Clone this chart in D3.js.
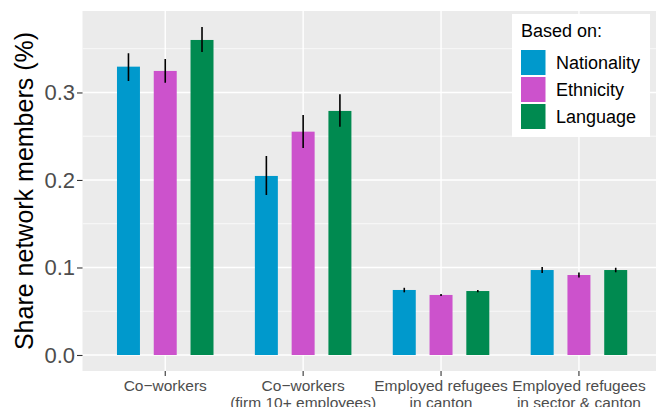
<!DOCTYPE html>
<html>
<head>
<meta charset="utf-8">
<script src="https://cdn.jsdelivr.net/npm/d3@7"></script>
<style>
  body { margin: 0; background: #fff; }
  text { font-family: "Liberation Sans", Arial, sans-serif; }
</style>
</head>
<body>
<div class="forSvg"></div>
<script>
// svg size
const svg_w = 656;
const svg_h = 407;

// data
const categories = ["Co-workers", "Co-workers (firm 10+ employees)", "Employed refugees in canton", "Employed refugees in sector & canton"];
const catLabels = [["Co\u2212workers"], ["Co\u2212workers", "(firm 10+ employees)"], ["Employed refugees", "in canton"], ["Employed refugees", "in sector & canton"]];
const series = ["Nationality", "Ethnicity", "Language"];
const nationality = [0.3295, 0.2046, 0.0743, 0.0971];
const ethnicity = [0.3246, 0.2552, 0.0686, 0.0914];
const language = [0.3600, 0.2789, 0.0731, 0.0971];
const nationalityLo = [0.3131, 0.1829, 0.0716, 0.0937];
const nationalityHi = [0.3448, 0.2274, 0.0768, 0.1006];
const ethnicityLo = [0.3112, 0.2366, 0.0675, 0.0885];
const ethnicityHi = [0.3383, 0.2743, 0.0698, 0.0943];
const languageLo = [0.3463, 0.2609, 0.0718, 0.0945];
const languageHi = [0.3749, 0.2980, 0.0744, 0.0997];
const yTicks = [0, 0.1, 0.2, 0.3];
const yMinor = [0.05, 0.15, 0.25, 0.35];
const colors = ["#0099CC", "#CC52CC", "#008A50"];

// panel area
const panelL = 82.5, panelT = 11, panelB = 371;

const rows = [];
categories.forEach((c, i) => {
  rows.push({cat: c, s: series[0], v: nationality[i], lo: nationalityLo[i], hi: nationalityHi[i]});
  rows.push({cat: c, s: series[1], v: ethnicity[i], lo: ethnicityLo[i], hi: ethnicityHi[i]});
  rows.push({cat: c, s: series[2], v: language[i], lo: languageLo[i], hi: languageHi[i]});
});

// x: discrete scale, 0.6 expansion on each side
const step = 137.9;
const x0 = d3.scaleBand()
  .domain(categories)
  .range([panelL, panelL + step * 4.2])
  .paddingInner(0)
  .paddingOuter(0.1);
const x1 = d3.scaleBand()
  .domain(series)
  .range([-0.4 * step, 0.4 * step]);
const barW = x1.bandwidth() * 0.625;
const cx = d => x0(d.cat) + x0.bandwidth() / 2 + x1(d.s) + x1.bandwidth() / 2;

const yScale = d3.scaleLinear()
  .domain([-0.01829, 0.3931])
  .range([panelB, panelT]);

const svg = d3.select(".forSvg").append("svg")
  .attr("width", svg_w)
  .attr("height", svg_h);

svg.append("defs").append("clipPath").attr("id", "clip")
  .append("rect").attr("x", panelL).attr("y", panelT)
  .attr("width", svg_w - panelL).attr("height", panelB - panelT);

// panel background
svg.append("rect")
  .attr("x", panelL).attr("y", panelT)
  .attr("width", svg_w - panelL).attr("height", panelB - panelT)
  .attr("fill", "#EBEBEB");

const grid = svg.append("g").attr("clip-path", "url(#clip)");
grid.selectAll(".minor").data(yMinor).enter().append("line")
  .attr("x1", panelL).attr("x2", svg_w)
  .attr("y1", d => yScale(d)).attr("y2", d => yScale(d))
  .attr("stroke", "#fff").attr("stroke-width", 0.7);
grid.selectAll(".major").data(yTicks).enter().append("line")
  .attr("x1", panelL).attr("x2", svg_w)
  .attr("y1", d => yScale(d)).attr("y2", d => yScale(d))
  .attr("stroke", "#fff").attr("stroke-width", 1.4);
grid.selectAll(".vmajor").data(categories).enter().append("line")
  .attr("x1", d => x0(d) + x0.bandwidth() / 2).attr("x2", d => x0(d) + x0.bandwidth() / 2)
  .attr("y1", panelT).attr("y2", panelB)
  .attr("stroke", "#fff").attr("stroke-width", 1.4);

// bars
const marks = svg.append("g").attr("clip-path", "url(#clip)");
marks.selectAll("rect").data(rows).enter().append("rect")
  .attr("x", d => cx(d) - barW / 2)
  .attr("width", barW)
  .attr("y", d => yScale(d.v))
  .attr("height", d => yScale(0) - yScale(d.v))
  .attr("fill", d => colors[series.indexOf(d.s)]);

// error bars
marks.selectAll("line").data(rows).enter().append("line")
  .attr("x1", cx).attr("x2", cx)
  .attr("y1", d => yScale(d.lo)).attr("y2", d => yScale(d.hi))
  .attr("stroke", "#000").attr("stroke-width", 1.6);

// y axis
const yAxis = d3.axisLeft(yScale).tickValues(yTicks).tickFormat(d3.format(".1f")).tickSize(5.5).tickPadding(2);
const yg = svg.append("g").attr("transform", `translate(${panelL},0)`).call(yAxis);
yg.select(".domain").remove();
yg.selectAll("line").attr("stroke", "#333").attr("stroke-width", 1.1);
yg.selectAll("text").attr("fill", "#4D4D4D").style("font-size", "22px")
  .style("font-family", "'Liberation Sans', Arial, sans-serif");

// x axis
const xAxis = d3.axisBottom(x0).tickSize(5).tickFormat("");
const xg = svg.append("g").attr("transform", `translate(0,${panelB})`).call(xAxis);
xg.select(".domain").remove();
xg.selectAll("line").attr("stroke", "#333").attr("stroke-width", 1.1);
xg.selectAll(".tick").each(function(d, i) {
  const t = d3.select(this).append("text")
    .attr("fill", "#4D4D4D")
    .attr("text-anchor", "middle")
    .style("font-size", "15.5px");
  catLabels[i].forEach((line, j) => {
    t.append("tspan").attr("x", 0).attr("y", 20 + j * 17).text(line);
  });
});

// y axis title
svg.append("text")
  .attr("transform", `translate(33,${(panelT + panelB) / 2}) rotate(-90)`)
  .attr("text-anchor", "middle")
  .attr("fill", "#000")
  .style("font-size", "25px")
  .text("Share network members (%)");

// legend
const lg = svg.append("g");
lg.append("rect").attr("x", 512).attr("y", 14).attr("width", 138).attr("height", 123).attr("fill", "#fff");
lg.append("text").attr("x", 521).attr("y", 37).style("font-size", "18px").text("Based on:");
series.forEach((s, i) => {
  lg.append("rect").attr("x", 521).attr("y", 50 + i * 27).attr("width", 24.5).attr("height", 25)
    .attr("fill", colors[i]);
  lg.append("text").attr("x", 556).attr("y", 68.5 + i * 27).style("font-size", "18px").text(s);
});
</script>
</body>
</html>
